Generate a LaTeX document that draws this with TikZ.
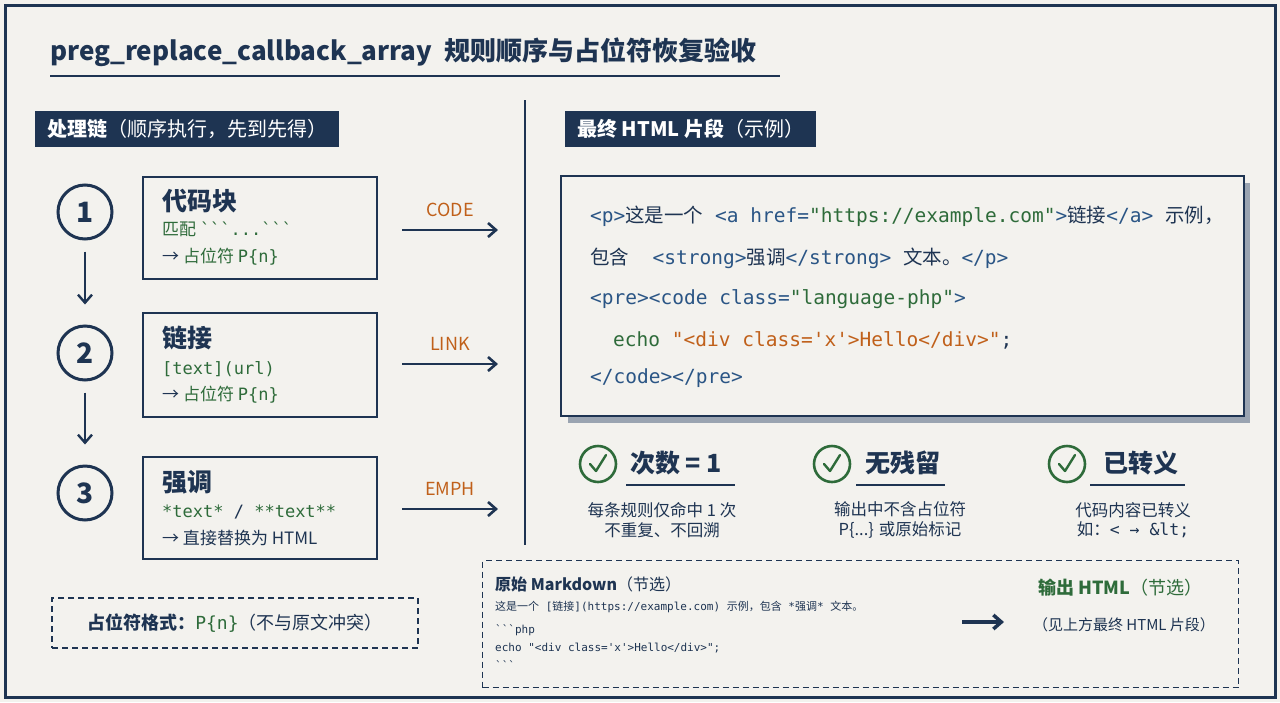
\documentclass[tikz,border=0pt]{standalone}
\usepackage{fontspec}
\setmainfont{Noto Sans CJK SC}
\newfontfamily\mono{DejaVu Sans Mono}
\newfontfamily\cjk{Noto Sans CJK SC}
\usetikzlibrary{arrows.meta}
\definecolor{navy}{HTML}{1E3452}
\definecolor{grn}{HTML}{2E6B3A}
\definecolor{org}{HTML}{C0601A}
\definecolor{tagb}{HTML}{2A5585}
\definecolor{bg}{HTML}{F3F2EE}
\newcommand{\bt}{\symbol{96}}
\begin{document}
\begin{tikzpicture}[x=1pt,y=-1pt,
  every node/.style={inner sep=0pt,text=navy},
  box/.style={draw=navy,line width=2.2pt},
  circ/.style={draw=navy,line width=3pt,circle,minimum size=54pt,font=\bfseries\fontsize{28}{28}\selectfont},
  chk/.style={draw=grn,line width=2.6pt,circle,minimum size=36pt},
  arr/.style={-{Straight Barb[length=8pt,width=14pt]},line width=2.6pt,draw=navy},
  dsh/.style={draw=navy,line width=1.2pt,dash pattern=on 6pt off 4pt},
  hdr/.style={fill=navy,text=white,inner xsep=12pt,inner ysep=8pt,font=\fontsize{20}{20}\selectfont},
  ttl/.style={anchor=west,font=\bfseries\fontsize{25}{25}\selectfont},
  sub/.style={anchor=west,font=\fontsize{17}{17}\selectfont},
  lab/.style={text=org,font=\fontsize{18}{18}\selectfont},
  code/.style={anchor=west,font=\mono\fontsize{19.5}{19.5}\selectfont},
  desc/.style={font=\fontsize{16.5}{16.5}\selectfont,align=center},
  md/.style={anchor=west,font=\mono\fontsize{11}{11}\selectfont}]
\useasboundingbox (0,0) rectangle (1280,702);
\fill[bg] (0,0) rectangle (1280,702);
\draw[navy,line width=3pt] (5,5) rectangle (1275,697);
% title
\node[anchor=west,font=\bfseries\fontsize{26}{26}\selectfont] (title) at (50,52) {preg\_replace\_callback\_array\ \ 规则顺序与占位符恢复验收};
\draw[navy,line width=1.5pt] (50,76) -- (780,76);
% headers
\node[hdr,anchor=west] (lh) at (35,129) {\textbf{处理链}（顺序执行，先到先得）};
\node[hdr,anchor=west] (rh) at (565,129) {\textbf{最终 HTML 片段}（示例）};
\draw[navy,line width=2pt] (525,100) -- (525,545);
% circles
\node[circ] (c1) at (85,212) {1};
\node[circ] (c2) at (85,353) {2};
\node[circ] (c3) at (85,493) {3};
\draw[arr,line width=2.4pt,shorten <=11pt,shorten >=20pt] (c1) -- (c2);
\draw[arr,line width=2.4pt,shorten <=11pt,shorten >=20pt] (c2) -- (c3);
% boxes
\node[box,minimum width=234pt,minimum height=102pt,anchor=north west] (b1) at (142,176) {};
\node[ttl] at (162,201) {代码块};
\node[sub,text=grn] at (162,229) {匹配 {\mono\bt\bt\bt...\bt\bt\bt}};
\node[sub] at (162,257) {→ \textcolor{grn}{占位符 {\mono P\{n\}}}};
\node[box,minimum width=234pt,minimum height=104pt,anchor=north west] (b2) at (142,312) {};
\node[ttl] at (162,338) {链接};
\node[sub,text=grn] at (162,369) {\mono [text](url)};
\node[sub] at (162,395) {→ \textcolor{grn}{占位符 {\mono P\{n\}}}};
\node[box,minimum width=234pt,minimum height=102pt,anchor=north west] (b3) at (142,456) {};
\node[ttl] at (162,482) {强调};
\node[sub,text=grn] at (162,512) {\mono *text* {\color{navy}/} **text**};
\node[sub] at (162,538) {→ 直接替换为 HTML};
% arrows with labels
\coordinate (a1) at (402,230); \coordinate (e1) at (498,230);
\coordinate (a2) at (402,364); \coordinate (e2) at (498,364);
\coordinate (a3) at (402,509); \coordinate (e3) at (498,509);
\draw[arr] (a1) -- node[lab,above=12pt] {CODE} (e1);
\draw[arr] (a2) -- node[lab,above=12pt] {LINK} (e2);
\draw[arr] (a3) -- node[lab,above=12pt] {EMPH} (e3);
% code box
\fill[navy!45] (568,183) rectangle (1250,423);
\node[box,fill=bg,minimum width=683pt,minimum height=240pt,anchor=north west] (cb) at (560,175) {};
\node[code] at (590,216) {\textcolor{tagb}{<p>}{\cjk 这是一个} \textcolor{tagb}{<a href=}\textcolor{grn}{"https://example.com"}\textcolor{tagb}{>}{\cjk 链接}\textcolor{tagb}{</a>} {\cjk 示例，}};
\node[code] at (590,258) {{\cjk 包含} \ \textcolor{tagb}{<strong>}{\cjk 强调}\textcolor{tagb}{</strong>} {\cjk 文本。}\textcolor{tagb}{</p>}};
\node[code] at (590,299) {\textcolor{tagb}{<pre><code class=}\textcolor{grn}{"language-php"}\textcolor{tagb}{>}};
\node[code] at (613,340) {\textcolor{grn}{echo} \textcolor{org}{"<div class='x'>Hello</div>"}\textcolor{navy}{;}};
\node[code] at (590,378) {\textcolor{tagb}{</code></pre>}};
% checks
\foreach \cx/\name in {598/k1,832/k2,1067/k3}{
  \node[chk] (\name) at (\cx,464) {};
  \draw[grn,line width=2.4pt,line cap=round,line join=round] (\cx-8,464) -- (\cx-2,471) -- (\cx+8,455);
}
\node[anchor=west,font=\bfseries\fontsize{25}{25}\selectfont] (t1) at (630,463) {次数 = 1};
\node[anchor=west,font=\bfseries\fontsize{25}{25}\selectfont] (t2) at (865,463) {无残留};
\node[anchor=west,font=\bfseries\fontsize{25}{25}\selectfont] (t3) at (1103,463) {已转义};
\draw[navy,line width=2pt] (626,485) -- (735,485);
\draw[navy,line width=2pt] (856,485) -- (945,485);
\draw[navy,line width=2pt] (1090,485) -- (1185,485);
\node[desc] at (662,520) {每条规则仅命中 1 次\\[3pt]不重复、不回溯};
\node[desc] at (900,520) {输出中不含占位符\\[3pt]P\{...\} 或原始标记};
\node[desc] at (1133,520) {代码内容已转义\\[3pt]如：{\mono < → \&lt;}};
% placeholder box
\node[dsh,minimum width=366pt,minimum height=50pt,font=\fontsize{18}{18}\selectfont] (ph) at (235,623) {\textbf{占位符格式：}\textcolor{grn}{\mono P\{n\}}（不与原文冲突）};
% markdown box
\node[dsh,minimum width=756pt,minimum height=127pt,anchor=north west] (mb) at (482,560) {};
\node[anchor=west,font=\fontsize{16}{16}\selectfont] at (495,584) {\textbf{原始 Markdown}（节选）};
\node[md] at (495,607) {{\cjk 这是一个} [{\cjk 链接}](https://example.com) {\cjk 示例，包含} *{\cjk 强调}* {\cjk 文本。}};
\node[md] at (495,630) {\bt\bt\bt php};
\node[md] at (495,648) {echo "<div class='x'>Hello</div>";};
\node[md] at (495,665) {\bt\bt\bt};
\coordinate (ma) at (962,622); \coordinate (mz) at (1004,622);
\draw[arr,line width=3.5pt] (ma) -- (mz);
\node[anchor=west,text=grn,font=\fontsize{18}{18}\selectfont] at (1038,588) {\textbf{输出 HTML}（节选）};
\node[font=\fontsize{15}{15}\selectfont] at (1124,625) {（见上方最终 HTML 片段）};
\end{tikzpicture}
\end{document}
